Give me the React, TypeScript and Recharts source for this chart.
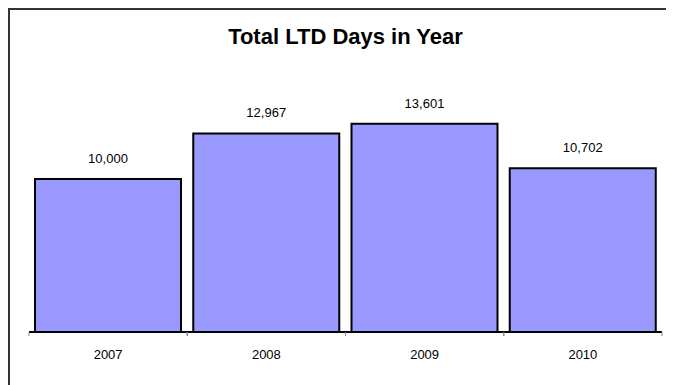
import React from 'react';
import { BarChart, Bar, XAxis, YAxis, LabelList } from 'recharts';

const years = ['2007', '2008', '2009', '2010'];
const ltdDays = [10000, 12967, 13601, 10702];

const data = years.map((year, i) => ({ year, days: ltdDays[i] }));

const fmt = (v: any) => Number(v).toLocaleString('en-US');

const TICK_SIZE = 4;
const TICK_MARGIN = 14;

// label under the bar plus the small marks at the category edges
const YearTick = (props: any) => {
  const { x, y, payload } = props;
  const axisY = y - TICK_SIZE - TICK_MARGIN;
  const half = payload && payload.offset ? payload.offset : 0;
  return (
    <g>
      {half > 0 && (
        <>
          <line x1={x - half} x2={x - half} y1={axisY} y2={axisY + TICK_SIZE} stroke="#888" strokeWidth={1} />
          <line x1={x + half} x2={x + half} y1={axisY} y2={axisY + TICK_SIZE} stroke="#888" strokeWidth={1} />
        </>
      )}
      <text x={x} y={y} dy="0.71em" textAnchor="middle" fill="#000" fontSize={13}>
        {payload.value}
      </text>
    </g>
  );
};

const App: React.FC = () => {
  return (
    <div
      style={{
        position: 'relative',
        width: 664,
        height: 375,
        borderTop: '2px solid #333',
        borderLeft: '2px solid #333',
        fontFamily: '"Liberation Sans", Arial, sans-serif',
        background: '#fff',
        overflow: 'hidden',
      }}
    >
      {/* Title */}
      <div
        style={{
          position: 'absolute',
          top: 14,
          left: 19,
          width: 633,
          textAlign: 'center',
          fontSize: 22,
          fontWeight: 'bold',
          lineHeight: '26px',
          color: '#000',
        }}
      >
        Total LTD Days in Year
      </div>

      <BarChart
        width={664}
        height={375}
        data={data}
        margin={{ top: 77, right: 12, bottom: 23, left: 19 }}
        barCategoryGap={6}
      >
        <XAxis
          dataKey="year"
          height={30}
          axisLine={{ stroke: '#000', strokeWidth: 2 }}
          tickLine={false}
          tickSize={TICK_SIZE}
          tickMargin={TICK_MARGIN}
          tick={<YearTick />}
          interval={0}
        />
        <YAxis hide domain={[0, 16000]} />
        <Bar
          dataKey="days"
          fill="#9999FF"
          stroke="#000"
          strokeWidth={2}
          isAnimationActive={false}
        >
          <LabelList
            dataKey="days"
            position="top"
            offset={16}
            formatter={fmt}
            style={{ fill: '#000', fontSize: 13 }}
          />
        </Bar>
      </BarChart>
    </div>
  );
};

export default App;
